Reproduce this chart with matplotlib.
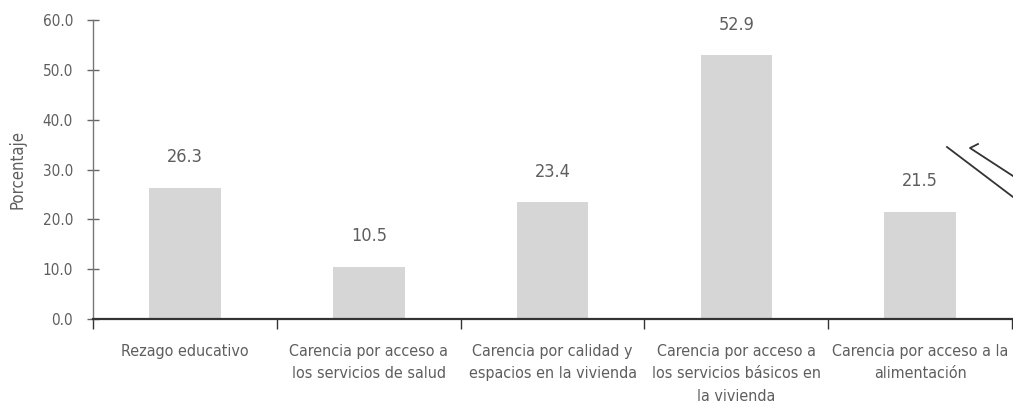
import matplotlib
matplotlib.use('Agg')
import matplotlib.pyplot as plt
from matplotlib.lines import Line2D
import numpy as np

categorias = ['Rezago educativo',
              'Carencia por acceso a\nlos servicios de salud',
              'Carencia por calidad y\nespacios en la vivienda',
              'Carencia por acceso a\nlos servicios básicos en\nla vivienda',
              'Carencia por acceso a la\nalimentación']
porcentajes = [26.3, 10.5, 23.4, 52.9, 21.5]
y_ticks = [0, 10, 20, 30, 40, 50, 60]

texto = '#5e5e5e'
plt.rcParams['font.family'] = ['DejaVu Sans']
plt.rcParams['font.stretch'] = 'condensed'

fig = plt.figure(figsize=(10.13, 4.15), dpi=100)
ax = fig.add_axes([0.092, 0.231, 0.907, 0.721])

x = np.arange(len(categorias))
barras = ax.bar(x, porcentajes, width=0.39, color='#d6d6d6', edgecolor='none')

for b, v in zip(barras, porcentajes):
    ax.annotate(f'{v:.1f}', (b.get_x() + b.get_width() / 2, v),
                xytext=(0, 22), textcoords='offset points',
                ha='center', va='center', fontsize=13, color=texto)

ax.set_xlim(-0.5, len(categorias) - 0.5)
ax.set_ylim(0, 60)
ax.set_yticks(y_ticks)
ax.set_yticklabels([f'{t:.1f}' for t in y_ticks], fontsize=11, color=texto)

# ticks on the category boundaries, labels at the centres
ax.set_xticks(np.arange(-0.5, len(categorias)), labels=[''] * (len(categorias) + 1))
ax.set_xticks(x, minor=True)
ax.set_xticklabels(categorias, minor=True, fontsize=11.5, color=texto, linespacing=1.6)
ax.tick_params(axis='x', which='major', direction='out', length=7, width=1, color='#333333')
ax.tick_params(axis='x', which='minor', length=0, pad=18)
ax.tick_params(axis='y', direction='inout', length=9, width=1, color='#666666', pad=10)

for s in ['top', 'right']:
    ax.spines[s].set_visible(False)
ax.spines['left'].set_color('#777777')
ax.spines['left'].set_linewidth(1.0)
ax.spines['bottom'].set_color('#333333')
ax.spines['bottom'].set_linewidth(1.6)

ax.set_ylabel('Porcentaje', fontsize=12, color=texto, labelpad=12)

# pen strokes over the right margin
fig.add_artist(Line2D([947 / 1013, 1.0], [1 - 147 / 415, 1 - 197 / 415],
                      color='#333333', linewidth=1.3))
fig.add_artist(Line2D([978 / 1013, 970 / 1013, 1.0], [1 - 144 / 415, 1 - 148 / 415, 1 - 176 / 415],
                      color='#333333', linewidth=1.3))

fig.savefig('out.png', dpi=100, facecolor='white')
